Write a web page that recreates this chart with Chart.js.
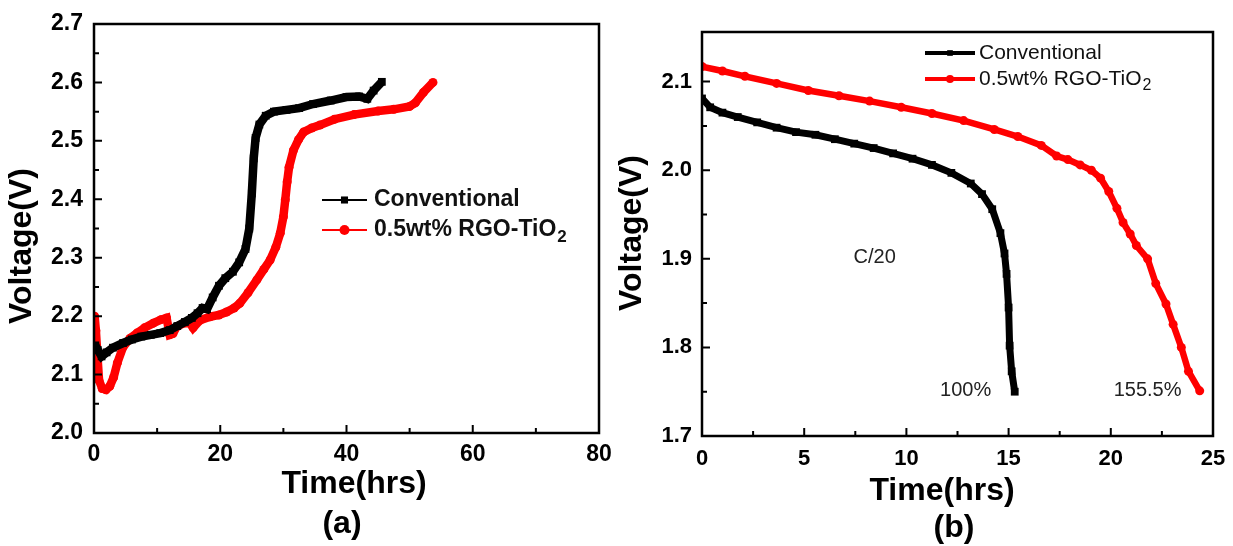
<!DOCTYPE html>
<html>
<head>
<meta charset="utf-8">
<script src="https://cdn.jsdelivr.net/npm/chart.js@4.4.1/dist/chart.umd.min.js"></script>
<style>
  html, body { margin: 0; padding: 0; background: #fff; }
  .wrap { position: relative; width: 1233px; height: 546px; overflow: hidden; }
  .panel { position: absolute; top: 0; height: 546px; }
  #panelA { left: 0; width: 613px; }
  #panelB { left: 613px; width: 620px; }
</style>
</head>
<body>
<div class="wrap">
  <div class="panel" id="panelA"><canvas id="chartA"></canvas></div>
  <div class="panel" id="panelB"><canvas id="chartB"></canvas></div>
</div>
<script>
// Series names
const seriesNames = ['Conventional', '0.5wt% RGO-TiO2'];

// (a) charge
const convTimeA = [0.2, 0.6, 1.2, 2.0, 3.0, 4.6, 6.0, 7.5, 9.0, 10.5, 12.0, 13.2, 14.4, 15.5, 16.4, 17.2, 17.9, 18.8, 19.8, 20.8, 22.0, 23.0, 24.0, 24.6, 25.0, 25.3, 25.6, 26.2, 27.2, 28.5, 30.5, 32.5, 34.7, 37.5, 40.0, 42.0, 43.3, 44.3, 45.6];
const convVoltA = [2.150, 2.142, 2.131, 2.138, 2.146, 2.154, 2.160, 2.165, 2.168, 2.171, 2.176, 2.183, 2.190, 2.197, 2.205, 2.214, 2.212, 2.232, 2.252, 2.265, 2.276, 2.292, 2.315, 2.350, 2.410, 2.470, 2.505, 2.528, 2.543, 2.550, 2.553, 2.556, 2.563, 2.569, 2.575, 2.576, 2.572, 2.586, 2.601];
const rgoTimeA = [0.1, 0.3, 0.5, 0.8, 1.3, 1.9, 2.5, 3.1, 3.7, 4.6, 5.7, 6.8, 8.0, 9.4, 10.6, 11.5, 12.0, 12.5, 13.1, 14.2, 15.2, 15.7, 16.8, 18.4, 19.8, 21.0, 22.2, 23.1, 24.4, 25.8, 26.9, 27.9, 28.8, 29.5, 30.0, 30.3, 30.6, 30.9, 31.6, 32.4, 33.2, 34.5, 35.8, 38.1, 41.2, 45.0, 47.5, 50.0, 50.9, 52.2, 53.7];
const rgoVoltA = [2.200, 2.175, 2.140, 2.090, 2.076, 2.074, 2.080, 2.095, 2.120, 2.147, 2.162, 2.171, 2.180, 2.188, 2.194, 2.197, 2.168, 2.170, 2.182, 2.188, 2.188, 2.180, 2.193, 2.199, 2.202, 2.207, 2.214, 2.222, 2.240, 2.262, 2.280, 2.296, 2.318, 2.342, 2.370, 2.399, 2.430, 2.455, 2.484, 2.502, 2.515, 2.522, 2.527, 2.537, 2.545, 2.551, 2.554, 2.559, 2.565, 2.583, 2.600];

// (b) discharge at C/20
const convTimeB = [0, 0.4, 1.0, 1.75, 2.7, 3.65, 4.6, 5.55, 6.5, 7.45, 8.4, 9.35, 10.3, 11.25, 12.2, 13.15, 13.7, 14.2, 14.6, 14.8, 14.9, 15.0, 15.05, 15.15, 15.3];
const convVoltB = [2.081, 2.071, 2.065, 2.060, 2.054, 2.048, 2.043, 2.040, 2.035, 2.030, 2.025, 2.019, 2.013, 2.006, 1.997, 1.985, 1.973, 1.956, 1.929, 1.906, 1.883, 1.845, 1.802, 1.773, 1.750];
const rgoTimeB = [0, 1.0, 2.1, 3.65, 5.2, 6.7, 8.2, 9.75, 11.25, 12.8, 14.3, 15.45, 16.6, 17.35, 17.9, 18.5, 19.05, 19.5, 19.9, 20.3, 20.6, 20.95, 21.25, 21.8, 22.2, 22.7, 23.05, 23.45, 23.8, 24.35];
const rgoVoltB = [2.117, 2.112, 2.106, 2.098, 2.090, 2.084, 2.078, 2.071, 2.064, 2.056, 2.046, 2.038, 2.028, 2.016, 2.012, 2.006, 2.000, 1.991, 1.976, 1.957, 1.941, 1.928, 1.915, 1.900, 1.872, 1.849, 1.826, 1.800, 1.773, 1.751];

// capacity notes on (b)
const noteTexts = ['C/20', '100%', '155.5%'];
const noteTimes = [8.45, 12.9, 21.8];
const noteVolts = [1.902, 1.751, 1.751];

const FONT = "'Liberation Sans', Arial, Helvetica, sans-serif";
Chart.defaults.font.family = FONT;
Chart.defaults.color = '#000';

const pts = (xs, ys) => xs.map((x, i) => ({ x: x, y: ys[i] }));

function series(label, color, style, data, width, radius) {
    return {
        label: label, data: data, borderColor: color, backgroundColor: color,
        borderWidth: width, pointStyle: style, pointRadius: radius,
        pointBorderWidth: 0, tension: 0, showLine: true
    };
}

// fixed-size axis so the plot box sits where the layout padding puts it
function scale(min, max, step, size, pad, fixed, isY) {
    return {
        type: 'linear', min: min, max: max,
        grid: { display: false, drawTicks: false },
        border: { display: false },
        ticks: {
            stepSize: step, includeBounds: false, padding: pad, color: '#000',
            font: { size: size, weight: 'bold' },
            maxRotation: 0, autoSkip: false,
            callback: v => isY ? v.toFixed(1) : String(v)
        },
        afterFit: s => {
            if (isY) { s.width = fixed; s.paddingTop = 0; s.paddingBottom = 0; }
            else { s.height = fixed; s.paddingLeft = 0; s.paddingRight = 0; }
        }
    };
}

// draws the box, inward ticks, legend, axis titles and notes
const frame = {
    id: 'frame',
    afterDraw(chart, args, o) {
        const { ctx, chartArea: a, scales } = chart;
        const xs = scales.x, ys = scales.y;
        ctx.save();

        ctx.strokeStyle = '#000';
        ctx.lineWidth = 2;
        ctx.beginPath();
        const majX = xs.ticks.map(t => t.value), majY = ys.ticks.map(t => t.value);
        const mid = v => v.slice(1).map((t, i) => (t + v[i]) / 2);
        majX.forEach(v => { const p = xs.getPixelForValue(v); ctx.moveTo(p, a.bottom); ctx.lineTo(p, a.bottom - 8); });
        mid(majX).forEach(v => { const p = xs.getPixelForValue(v); ctx.moveTo(p, a.bottom); ctx.lineTo(p, a.bottom - 5); });
        majY.forEach(v => { const p = ys.getPixelForValue(v); ctx.moveTo(a.left, p); ctx.lineTo(a.left + 8, p); });
        mid(majY).forEach(v => { const p = ys.getPixelForValue(v); ctx.moveTo(a.left, p); ctx.lineTo(a.left + 5, p); });
        ctx.stroke();

        ctx.lineWidth = 2.5;
        ctx.strokeRect(a.left, a.top, a.right - a.left, a.bottom - a.top);

        // legend
        const L = o.legend;
        chart.data.datasets.forEach((ds, i) => {
            const yy = L.y[i];
            ctx.strokeStyle = ds.borderColor;
            ctx.fillStyle = ds.borderColor;
            ctx.lineWidth = L.lineWidth;
            ctx.beginPath();
            ctx.moveTo(L.x1, yy);
            ctx.lineTo(L.x2, yy);
            ctx.stroke();
            Chart.helpers.drawPoint(ctx, { pointStyle: ds.pointStyle, radius: L.radius, borderWidth: 0, rotation: 0 }, (L.x1 + L.x2) / 2, yy);
            ctx.fillStyle = '#111';
            ctx.textAlign = 'left';
            ctx.textBaseline = 'middle';
            const m = ds.label.match(/^(.*O)(\d)$/);
            const main = m ? m[1] : ds.label;
            ctx.font = L.weight + ' ' + L.size + 'px ' + FONT;
            ctx.fillText(main, L.textX, yy);
            if (m) {
                const w = ctx.measureText(main).width;
                ctx.font = L.weight + ' ' + Math.round(L.size * 0.75) + 'px ' + FONT;
                ctx.fillText(m[2], L.textX + w + 1, yy + L.size * 0.3);
            }
        });

        // axis titles and panel label
        ctx.fillStyle = '#000';
        ctx.textAlign = 'center';
        ctx.textBaseline = 'middle';
        o.titles.forEach(t => {
            ctx.save();
            ctx.font = 'bold ' + t.size + 'px ' + FONT;
            ctx.translate(t.x, t.y);
            if (t.vertical) ctx.rotate(-Math.PI / 2);
            ctx.fillText(t.text, 0, 0);
            ctx.restore();
        });

        (o.notes || []).forEach(n => {
            ctx.font = n.size + 'px ' + FONT;
            ctx.fillStyle = '#222';
            ctx.fillText(n.text, xs.getPixelForValue(n.x), ys.getPixelForValue(n.y));
        });
        ctx.restore();
    }
};

const chartA = new Chart(document.getElementById('chartA'), {
    type: 'scatter',
    data: {
        datasets: [
            series(seriesNames[0], '#000000', 'rect', pts(convTimeA, convVoltA), 8.5, 5.5),
            series(seriesNames[1], '#ff0000', 'circle', pts(rgoTimeA, rgoVoltA), 8.5, 4.5)
        ]
    },
    options: {
        responsive: true, maintainAspectRatio: false, animation: false, devicePixelRatio: 1,
        layout: { padding: { left: 0, top: 24, right: 14, bottom: 0 } },
        scales: {
            x: scale(0, 80, 20, 23, 8, 113, false),
            y: scale(2.0, 2.7, 0.1, 23, 11, 94, true)
        },
        plugins: {
            legend: { display: false },
            tooltip: { enabled: false },
            frame: {
                legend: { x1: 322, x2: 367, textX: 374, y: [200, 230], lineWidth: 2, radius: 5, size: 23, weight: 'bold' },
                titles: [
                    { text: 'Voltage(V)', x: 22, y: 246, size: 32, vertical: true },
                    { text: 'Time(hrs)', x: 354, y: 484, size: 32 },
                    { text: '(a)', x: 342, y: 524, size: 32 }
                ]
            }
        }
    },
    plugins: [frame]
});

const chartB = new Chart(document.getElementById('chartB'), {
    type: 'scatter',
    data: {
        datasets: [
            series(seriesNames[0], '#000000', 'rect', pts(convTimeB, convVoltB), 7, 5.5),
            series(seriesNames[1], '#ff0000', 'circle', pts(rgoTimeB, rgoVoltB), 6.5, 4.5)
        ]
    },
    options: {
        responsive: true, maintainAspectRatio: false, animation: false, devicePixelRatio: 1,
        layout: { padding: { left: 0, top: 32, right: 20, bottom: 0 } },
        scales: {
            x: scale(0, 25, 5, 22, 10, 110, false),
            y: scale(1.7, 2.156, 0.1, 22, 10, 89, true)
        },
        plugins: {
            legend: { display: false },
            tooltip: { enabled: false },
            frame: {
                legend: { x1: 312, x2: 362, textX: 366, y: [53, 79], lineWidth: 4, radius: 4, size: 21, weight: 'normal' },
                titles: [
                    { text: 'Voltage(V)', x: 19, y: 233, size: 32, vertical: true },
                    { text: 'Time(hrs)', x: 329, y: 491, size: 32 },
                    { text: '(b)', x: 341, y: 528, size: 32 }
                ],
                notes: noteTexts.map((t, i) => ({ text: t, x: noteTimes[i], y: noteVolts[i], size: 20 }))
            }
        }
    },
    plugins: [frame]
});
</script>
</body>
</html>
